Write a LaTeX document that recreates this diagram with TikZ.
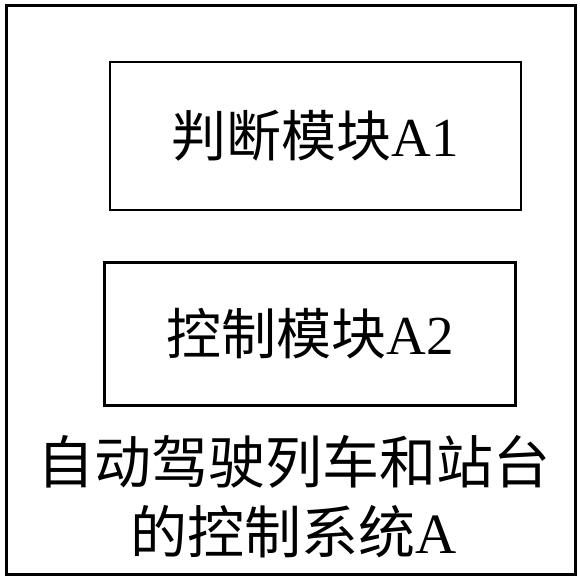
\documentclass[tikz,border=0pt]{standalone}
\usepackage{fontspec}
\setmainfont{Liberation Serif}
\newfontfamily\cjk{Noto Sans CJK SC}
\usepackage{tikz}

\begin{document}
\begin{tikzpicture}[x=1pt, y=-1pt, node distance=198pt, every node/.style={inner sep=0pt, text centered, font=\fontsize{55}{70}\selectfont}, module/.style={draw=black, line width=2.2pt, minimum width=411pt, minimum height=143pt}]

\useasboundingbox (0,0) rectangle (579,580);

\node (system) [draw=black, line width=3pt, minimum width=569pt, minimum height=568pt] at (290.5,290) {};
\node (judge) [module, minimum height=148pt] at (315.5,136) {{\cjk 判断模块}A1};
\node (control) [module, below of=judge, xshift=-5.5pt] {{\cjk 控制模块}A2};
\node (name) [align=center, font=\fontsize{57}{70}\selectfont] at (293.5,497) {{\cjk 自动驾驶列车和站台}\\{\cjk 的控制系统}A};

\end{tikzpicture}
\end{document}
